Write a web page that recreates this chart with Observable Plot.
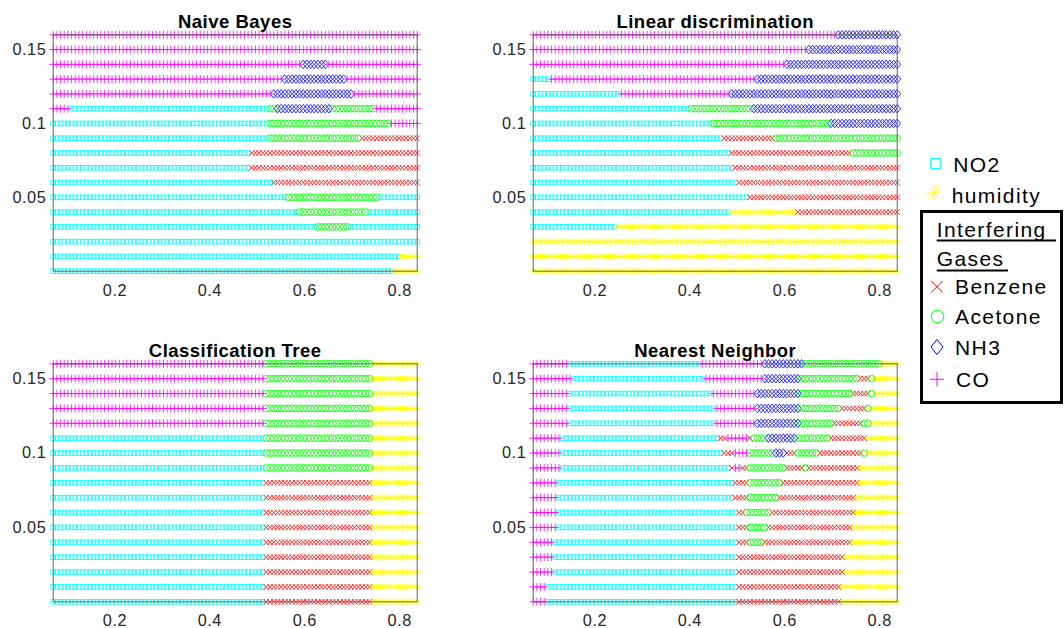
<!DOCTYPE html>
<html><head><meta charset="utf-8">
<script src="https://cdn.jsdelivr.net/npm/d3@7"></script>
<script src="https://cdn.jsdelivr.net/npm/@observablehq/plot@0.6"></script>
<style>
body{margin:0;background:#fff;}
#chart{position:relative;width:1064px;height:628px;overflow:hidden;background:#fff;font-family:"Liberation Sans",Arial,sans-serif;}
#chart > svg, #chart > div{position:absolute;}
</style></head><body><div id="chart"></div>
<script>
// ---------- data ----------
const classes = ["NO2", "humidity", "Benzene", "Acetone", "NH3", "CO"];
const rowY = [0.16, 0.15, 0.14, 0.13, 0.12, 0.11, 0.10, 0.09, 0.08, 0.07, 0.06, 0.05, 0.04, 0.03, 0.02, 0.01, 0.00];
const gridXRange = [0.07, 0.837];
const gridCols = 100;
const xTicks = [0.2, 0.4, 0.6, 0.8];
const yTicks = [0.05, 0.1, 0.15];
const titles = ["Naive Bayes", "Linear discrimination", "Classification Tree", "Nearest Neighbor"];

// each row (top to bottom): runs of [class, x where the run ends]
const naiveBayes = [
  [["CO", 0.84]],
  [["CO", 0.84]],
  [["CO", 0.59], ["NH3", 0.645], ["CO", 0.84]],
  [["CO", 0.554], ["NH3", 0.686], ["CO", 0.84]],
  [["CO", 0.532], ["NH3", 0.705], ["CO", 0.84]],
  [["CO", 0.105], ["NO2", 0.522], ["Acetone", 0.54], ["NH3", 0.656], ["Acetone", 0.747], ["CO", 0.84]],
  [["NO2", 0.522], ["Acetone", 0.776], ["CO", 0.84]],
  [["NO2", 0.522], ["Acetone", 0.715], ["Benzene", 0.84]],
  [["NO2", 0.482], ["Benzene", 0.84]],
  [["NO2", 0.482], ["Benzene", 0.84]],
  [["NO2", 0.533], ["Benzene", 0.84]],
  [["NO2", 0.564], ["Acetone", 0.755], ["NO2", 0.84]],
  [["NO2", 0.582], ["Acetone", 0.734], ["NO2", 0.84]],
  [["NO2", 0.622], ["Acetone", 0.694], ["NO2", 0.84]],
  [["NO2", 0.84]],
  [["NO2", 0.804], ["humidity", 0.84]],
  [["NO2", 0.783], ["humidity", 0.84]]
];
const linearDiscrimination = [
  [["CO", 0.709], ["NH3", 0.84]],
  [["CO", 0.649], ["NH3", 0.84]],
  [["CO", 0.6], ["NH3", 0.84]],
  [["NO2", 0.102], ["CO", 0.54], ["NH3", 0.84]],
  [["NO2", 0.253], ["CO", 0.481], ["NH3", 0.84]],
  [["NO2", 0.4], ["Acetone", 0.53], ["NH3", 0.84]],
  [["NO2", 0.442], ["Acetone", 0.691], ["NH3", 0.84]],
  [["NO2", 0.472], ["Benzene", 0.579], ["Acetone", 0.84]],
  [["NO2", 0.481], ["Benzene", 0.738], ["Acetone", 0.84]],
  [["NO2", 0.491], ["Benzene", 0.84]],
  [["NO2", 0.502], ["Benzene", 0.84]],
  [["NO2", 0.521], ["Benzene", 0.84]],
  [["NO2", 0.481], ["humidity", 0.621], ["Benzene", 0.84]],
  [["NO2", 0.242], ["humidity", 0.84]],
  [["humidity", 0.84]],
  [["humidity", 0.84]],
  [["humidity", 0.84]]
];
const classificationTree = [
  [["CO", 0.513], ["Acetone", 0.744], ["humidity", 0.84]],
  [["CO", 0.513], ["Acetone", 0.744], ["humidity", 0.84]],
  [["CO", 0.513], ["Acetone", 0.744], ["humidity", 0.84]],
  [["CO", 0.513], ["Acetone", 0.744], ["humidity", 0.84]],
  [["CO", 0.513], ["Acetone", 0.744], ["humidity", 0.84]],
  [["NO2", 0.513], ["Acetone", 0.744], ["humidity", 0.84]],
  [["NO2", 0.513], ["Acetone", 0.744], ["humidity", 0.84]],
  [["NO2", 0.513], ["Acetone", 0.744], ["humidity", 0.84]],
  [["NO2", 0.513], ["Benzene", 0.744], ["humidity", 0.84]],
  [["NO2", 0.513], ["Benzene", 0.744], ["humidity", 0.84]],
  [["NO2", 0.513], ["Benzene", 0.744], ["humidity", 0.84]],
  [["NO2", 0.513], ["Benzene", 0.744], ["humidity", 0.84]],
  [["NO2", 0.513], ["Benzene", 0.744], ["humidity", 0.84]],
  [["NO2", 0.513], ["Benzene", 0.744], ["humidity", 0.84]],
  [["NO2", 0.513], ["Benzene", 0.744], ["humidity", 0.84]],
  [["NO2", 0.513], ["Benzene", 0.744], ["humidity", 0.84]],
  [["NO2", 0.513], ["Benzene", 0.744], ["humidity", 0.84]]
];
const nearestNeighbor = [
  [["CO", 0.147], ["NO2", 0.425], ["CO", 0.551], ["NH3", 0.639], ["Acetone", 0.80], ["humidity", 0.84]],
  [["CO", 0.151], ["NO2", 0.427], ["CO", 0.551], ["NH3", 0.628], ["Acetone", 0.758], ["Benzene", 0.776], ["Acetone", 0.79], ["humidity", 0.84]],
  [["CO", 0.14], ["NO2", 0.442], ["CO", 0.54], ["NH3", 0.628], ["Acetone", 0.74], ["Benzene", 0.776], ["Acetone", 0.786], ["humidity", 0.84]],
  [["CO", 0.14], ["NO2", 0.453], ["CO", 0.54], ["NH3", 0.628], ["Acetone", 0.719], ["Benzene", 0.768], ["Acetone", 0.779], ["humidity", 0.84]],
  [["CO", 0.14], ["NO2", 0.453], ["CO", 0.54], ["NH3", 0.628], ["Acetone", 0.702], ["Benzene", 0.765], ["Acetone", 0.779], ["humidity", 0.84]],
  [["CO", 0.13], ["NO2", 0.463], ["Benzene", 0.48], ["CO", 0.526], ["Benzene", 0.532], ["Acetone", 0.561], ["NH3", 0.621], ["Acetone", 0.691], ["Benzene", 0.768], ["humidity", 0.84]],
  [["CO", 0.13], ["NO2", 0.472], ["Benzene", 0.491], ["CO", 0.523], ["Acetone", 0.579], ["NH3", 0.6], ["Benzene", 0.625], ["Acetone", 0.674], ["Benzene", 0.761], ["Acetone", 0.772], ["humidity", 0.84]],
  [["CO", 0.13], ["NO2", 0.483], ["Benzene", 0.495], ["CO", 0.51], ["Benzene", 0.525], ["Acetone", 0.6], ["Benzene", 0.638], ["Acetone", 0.648], ["Benzene", 0.758], ["humidity", 0.84]],
  [["CO", 0.119], ["NO2", 0.491], ["Benzene", 0.526], ["Acetone", 0.593], ["Benzene", 0.758], ["humidity", 0.84]],
  [["CO", 0.119], ["NO2", 0.491], ["Benzene", 0.526], ["Acetone", 0.583], ["Benzene", 0.747], ["humidity", 0.84]],
  [["CO", 0.119], ["NO2", 0.502], ["Benzene", 0.516], ["Acetone", 0.572], ["Benzene", 0.747], ["humidity", 0.84]],
  [["CO", 0.119], ["NO2", 0.502], ["Benzene", 0.526], ["Acetone", 0.565], ["Benzene", 0.737], ["humidity", 0.84]],
  [["CO", 0.109], ["NO2", 0.502], ["Benzene", 0.526], ["Acetone", 0.551], ["Benzene", 0.737], ["humidity", 0.84]],
  [["CO", 0.109], ["NO2", 0.502], ["Benzene", 0.726], ["humidity", 0.84]],
  [["CO", 0.109], ["NO2", 0.502], ["Benzene", 0.726], ["humidity", 0.84]],
  [["CO", 0.098], ["NO2", 0.502], ["Benzene", 0.716], ["humidity", 0.84]],
  [["CO", 0.098], ["NO2", 0.502], ["Benzene", 0.716], ["humidity", 0.84]]
];

// ---------- styles ----------
const colors = {NO2: "#00ffff", humidity: "#ffff00", Benzene: "#ff0000", Acetone: "#00ff00", NH3: "#0000ff", CO: "#ff00ff"};
const half = s => Math.sqrt(s / Math.PI);
const symbols = {
  NO2: {draw(c, s) { const h = half(s); c.rect(-h, -h, 2 * h, 2 * h); }},
  humidity: {draw(c, s) { const h = half(s), d = h * 0.72;
    c.moveTo(0, -h); c.lineTo(0, h); c.moveTo(-h, 0); c.lineTo(h, 0);
    c.moveTo(-d, -d); c.lineTo(d, d); c.moveTo(-d, d); c.lineTo(d, -d); }},
  Benzene: {draw(c, s) { const h = half(s); c.moveTo(-h, -h); c.lineTo(h, h); c.moveTo(-h, h); c.lineTo(h, -h); }},
  Acetone: {draw(c, s) { const h = half(s); c.moveTo(h, 0); c.arc(0, 0, h, 0, 2 * Math.PI); }},
  NH3: {draw(c, s) { const h = half(s), w = h * 0.8; c.moveTo(0, -h); c.lineTo(w, 0); c.lineTo(0, h); c.lineTo(-w, 0); c.closePath(); }},
  CO: {draw(c, s) { const h = half(s); c.moveTo(0, -h); c.lineTo(0, h); c.moveTo(-h, 0); c.lineTo(h, 0); }}
};
const sizes = {NO2: 2.3, humidity: 3.4, Benzene: 2.8, Acetone: 3.4, NH3: 4.3, CO: 4.0};

// ---------- build ----------
const gridX = d3.range(gridCols).map(j => gridXRange[0] + j * (gridXRange[1] - gridXRange[0]) / (gridCols - 1));
function expand(runs) {
  const pts = [];
  runs.forEach((row, i) => {
    gridX.forEach(x => {
      const run = row.find(r => x <= r[1] + 1e-9) || row[row.length - 1];
      pts.push({x, y: rowY[i], cls: run[0]});
    });
  });
  return pts;
}

const chart = document.getElementById("chart");
const font = '"Liberation Sans", Arial, sans-serif';

function panel(title, runs, left, top, height) {
  const pts = expand(runs);
  const marks = classes.map(c => Plot.dot(pts.filter(d => d.cls === c), {
    x: "x", y: "y", symbol: symbols[c], r: sizes[c], stroke: colors[c], fill: "none", strokeWidth: 0.8
  }));
  marks.push(Plot.frame({stroke: "#666", strokeWidth: 1}));
  marks.push(Plot.text([title], {frameAnchor: "top", lineAnchor: "bottom", dy: -6.8, fontSize: 18.5, fontWeight: "bold", fill: "#000"}));
  const svg = Plot.plot({
    width: 460, height,
    marginLeft: 52.7, marginRight: 43.3, marginTop: 34.3, marginBottom: 43.3,
    x: {domain: gridXRange, ticks: xTicks, tickSize: 0, tickPadding: 13, tickFormat: d => String(d), label: null},
    y: {domain: [0, 0.16], ticks: yTicks, tickSize: 0, tickPadding: 7, tickFormat: d => String(d), label: null},
    style: {fontFamily: font, fontSize: "16.3px", color: "#262626", background: "transparent", letterSpacing: "0.5px"},
    marks
  });
  svg.style.left = left + "px";
  svg.style.top = top + "px";
  chart.appendChild(svg);
}

panel(titles[0], naiveBayes, 0, 0, 314);
panel(titles[1], linearDiscrimination, 480.3, 0, 314);
panel(titles[2], classificationTree, 0, 328.7, 315.6);
panel(titles[3], nearestNeighbor, 480.3, 328.7, 315.6);

// ---------- legend ----------
const ns = "http://www.w3.org/2000/svg";
const leg = document.createElementNS(ns, "svg");
leg.setAttribute("width", 1064); leg.setAttribute("height", 628);
leg.style.left = "0px"; leg.style.top = "0px"; leg.style.pointerEvents = "none";
chart.appendChild(leg);
function el(tag, attrs, text) {
  const e = document.createElementNS(ns, tag);
  for (const k in attrs) e.setAttribute(k, attrs[k]);
  if (text) e.textContent = text;
  leg.appendChild(e);
  return e;
}
const legendItems = [
  {cls: "NO2", cx: 935.7, cy: 163.5, r: 5, tx: 953.3, ty: 172},
  {cls: "humidity", cx: 934, cy: 193, r: 7.5, tx: 951.7, ty: 203},
  {cls: "Benzene", cx: 937, cy: 286.7, r: 5.8, tx: 955, ty: 294},
  {cls: "Acetone", cx: 937.5, cy: 316.5, r: 6.3, tx: 955, ty: 324.3},
  {cls: "NH3", cx: 937, cy: 347, r: 7.5, tx: 955, ty: 355},
  {cls: "CO", cx: 937, cy: 379.3, r: 7, tx: 956, ty: 386.7}
];
legendItems.forEach(it => {
  const p = d3.path();
  symbols[it.cls].draw(p, Math.PI * it.r * it.r);
  el("path", {d: p.toString(), transform: `translate(${it.cx},${it.cy})`, fill: "none", stroke: colors[it.cls], "stroke-width": 1});
  el("text", {x: it.tx, y: it.ty, "font-family": font, "font-size": 21, "letter-spacing": "1.4px", fill: "#000"}, it.cls);
});
el("rect", {x: 921.5, y: 211.5, width: 140, height: 191, fill: "none", stroke: "#000", "stroke-width": 3});
el("text", {x: 936.7, y: 236.7, "font-family": font, "font-size": 21, "letter-spacing": "1.4px", fill: "#000"}, "Interfering");
el("line", {x1: 936.7, x2: 1056, y1: 240.5, y2: 240.5, stroke: "#000", "stroke-width": 2});
el("text", {x: 936.7, y: 266, "font-family": font, "font-size": 21, "letter-spacing": "1.4px", fill: "#000"}, "Gases");
el("line", {x1: 936.7, x2: 1008, y1: 270.5, y2: 270.5, stroke: "#000", "stroke-width": 2});
</script></body></html>
